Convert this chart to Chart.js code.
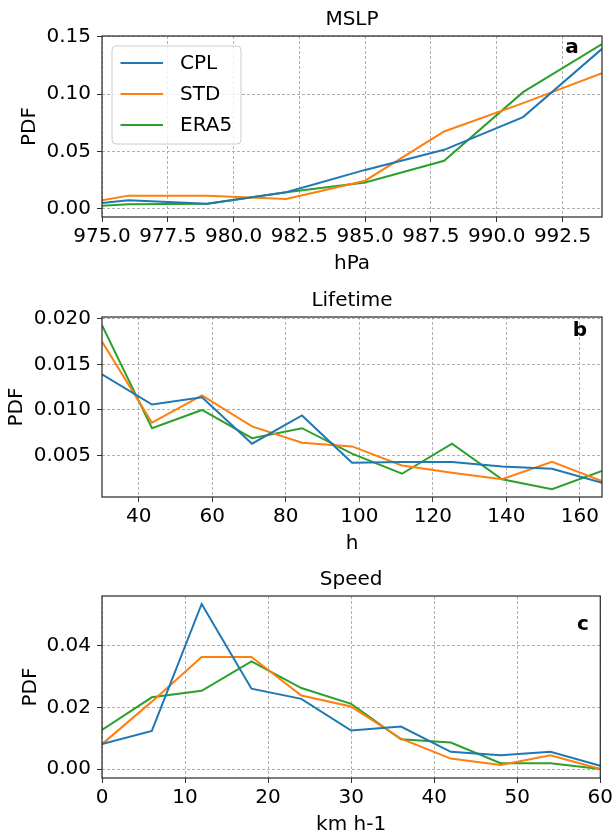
<!DOCTYPE html>
<html><head><meta charset="utf-8">
<script src="https://cdn.jsdelivr.net/npm/chart.js@4/dist/chart.umd.min.js"></script>
<style>
html,body{margin:0;padding:0;background:#fff}
body{width:616px;height:834px;overflow:hidden;position:relative}
.p{position:absolute;left:0;width:616px}
</style></head><body>
<div class="p" style="top:0;height:287px"><canvas id="ca"></canvas></div>
<div class="p" style="top:280px;height:287px"><canvas id="cb"></canvas></div>
<div class="p" style="top:560px;height:288px"><canvas id="cc"></canvas></div>
<script>
// ---- data ----
const seriesNames = ['CPL', 'STD', 'ERA5'];
const seriesColors = ['#1f77b4', '#ff7f0e', '#2ca02c'];

const mslpX = [975, 976, 979, 982, 985, 988, 991, 994];
const mslpCPL  = [0.0052, 0.0075, 0.0046, 0.0145, 0.0340, 0.0515, 0.0800, 0.1394];
const mslpSTD  = [0.0075, 0.0116, 0.0116, 0.0087, 0.0246, 0.0675, 0.0922, 0.1183];
const mslpERA5 = [0.0029, 0.0040, 0.0046, 0.0145, 0.0230, 0.0420, 0.1017, 0.1435];
const mslpXTicks = [975, 977.5, 980, 982.5, 985, 987.5, 990, 992.5];
const mslpYTicks = [0, 0.05, 0.10, 0.15];

const lifeX = [30, 43.6, 57.2, 70.8, 84.4, 98, 111.6, 125.2, 138.8, 152.4, 166];
const lifeCPL  = [0.0139, 0.0106, 0.0114, 0.0063, 0.0094, 0.0042, 0.0043, 0.0043, 0.0038, 0.00355, 0.0020];
const lifeSTD  = [0.0175, 0.0086, 0.0116, 0.0082, 0.0064, 0.0060, 0.0039, 0.0031, 0.0024, 0.0043, 0.0022];
const lifeERA5 = [0.0193, 0.0080, 0.0100, 0.0069, 0.0080, 0.0052, 0.0030, 0.0063, 0.0024, 0.0013, 0.0033];
const lifeXTicks = [40, 60, 80, 100, 120, 140, 160];
const lifeYTicks = [0.005, 0.010, 0.015, 0.020];

const speedX = [0, 6, 12, 18, 24, 30, 36, 42, 48, 54, 60];
const speedCPL  = [0.0081, 0.0124, 0.0536, 0.0261, 0.0228, 0.0125, 0.0138, 0.0056, 0.0045, 0.0056, 0.0011];
const speedSTD  = [0.0081, 0.0219, 0.0364, 0.0364, 0.0239, 0.0203, 0.0099, 0.0034, 0.0013, 0.0045, 0.0000];
const speedERA5 = [0.0127, 0.0233, 0.0254, 0.0350, 0.0263, 0.0212, 0.0097, 0.0086, 0.0019, 0.0019, 0.0000];
const speedXTicks = [0, 10, 20, 30, 40, 50, 60];
const speedYTicks = [0, 0.02, 0.04];

// ---- style ----
Chart.defaults.font.family = "'DejaVu Sans', sans-serif";
Chart.defaults.font.size = 20;
Chart.defaults.color = '#000';
Chart.defaults.animation = false;

const FONT = "'DejaVu Sans', sans-serif";

const deco = {
  id: 'panelDeco',
  afterDatasetsDraw(chart, args, opts) {
    const ctx = chart.ctx, a = chart.chartArea;
    ctx.save();
    ctx.setLineDash([]);
    ctx.strokeStyle = '#262626';
    ctx.lineWidth = 1.2;
    ctx.strokeRect(a.left, a.top, a.right - a.left, a.bottom - a.top);
    ctx.font = 'bold 20px ' + FONT;
    ctx.fillStyle = '#000';
    ctx.textAlign = 'center';
    ctx.textBaseline = 'middle';
    ctx.fillText(opts.letter, a.left + opts.letterPos[0], a.top + opts.letterPos[1]);
    if (opts.legend) {
      const bx = a.left + 10, by = a.top + 10, bw = 129, bh = 98, r = 4;
      ctx.beginPath();
      ctx.moveTo(bx + r, by);
      ctx.arcTo(bx + bw, by, bx + bw, by + bh, r);
      ctx.arcTo(bx + bw, by + bh, bx, by + bh, r);
      ctx.arcTo(bx, by + bh, bx, by, r);
      ctx.arcTo(bx, by, bx + bw, by, r);
      ctx.closePath();
      ctx.fillStyle = 'rgba(255,255,255,0.8)';
      ctx.fill();
      ctx.strokeStyle = '#cccccc';
      ctx.lineWidth = 1;
      ctx.stroke();
      ctx.font = '20px ' + FONT;
      ctx.textAlign = 'left';
      chart.data.datasets.forEach((ds, i) => {
        const yy = a.top + 27 + i * 31;
        ctx.strokeStyle = ds.borderColor;
        ctx.lineWidth = 2;
        ctx.beginPath();
        ctx.moveTo(a.left + 18.5, yy);
        ctx.lineTo(a.left + 61, yy);
        ctx.stroke();
        ctx.fillStyle = '#000';
        ctx.fillText(ds.label, a.left + 78, yy + 1);
      });
    }
    ctx.restore();
  }
};

function makePanel(id, cfg) {
  const datasets = cfg.series.map((s, i) => ({
    label: seriesNames[i],
    data: cfg.x.map((xv, j) => ({x: xv, y: s[j]})),
    borderColor: seriesColors[i],
    backgroundColor: seriesColors[i],
    borderWidth: 2,
    pointRadius: 0,
    tension: 0,
    fill: false
  }));
  return new Chart(document.getElementById(id), {
    type: 'line',
    data: {datasets},
    options: {
      responsive: true,
      maintainAspectRatio: false,
      animation: false,
      layout: {padding: {top: cfg.padTop, left: 0, right: 14, bottom: 0}},
      plugins: {
        legend: {display: false},
        tooltip: {enabled: false},
        title: {display: true, text: cfg.title, fullSize: false, color: '#000',
                font: {size: 20, weight: 'normal', family: FONT}, padding: {top: 0, bottom: 4}},
        panelDeco: {letter: cfg.letter, letterPos: cfg.letterPos, legend: cfg.legend}
      },
      scales: {
        x: {
          type: 'linear', min: cfg.xMin, max: cfg.xMax,
          afterBuildTicks: s => { s.ticks = cfg.xTicks.map(v => ({value: v})); },
          afterFit: s => { s.height = 70; },
          ticks: {callback: v => cfg.xFmt(v), autoSkip: false, maxRotation: 0, minRotation: 0, padding: 3, color: '#000', font: {size: 20}},
          grid: {color: '#b0b0b0', lineWidth: 1, tickLength: 5, tickColor: '#333', tickWidth: 1},
          border: {display: false, dash: [3, 2]},
          title: {display: true, text: cfg.xTitle, color: '#000', font: {size: 20}, padding: {top: 0, bottom: 11.5}}
        },
        y: {
          type: 'linear', min: cfg.yMin, max: cfg.yMax,
          afterBuildTicks: s => { s.ticks = cfg.yTicks.map(v => ({value: v})); },
          afterFit: s => { s.width = 102; },
          ticks: {callback: v => v.toFixed(cfg.yDec), autoSkip: false, padding: 6, color: '#000', font: {size: 20}},
          grid: {color: '#b0b0b0', lineWidth: 1, tickLength: 5, tickColor: '#333', tickWidth: 1},
          border: {display: false, dash: [3, 2]},
          title: {display: true, text: 'PDF', color: '#000', font: {size: 20}, padding: {top: cfg.yTitlePad, bottom: 0}}
        }
      }
    },
    plugins: [deco]
  });
}

makePanel('ca', {
  title: 'MSLP', x: mslpX, series: [mslpCPL, mslpSTD, mslpERA5],
  xMin: 975, xMax: 994, yMin: -0.007, yMax: 0.1506,
  xTicks: mslpXTicks, yTicks: mslpYTicks, xFmt: v => v.toFixed(1), yDec: 2,
  xTitle: 'hPa', padTop: 8, yTitlePad: 17.5, letter: 'a', letterPos: [470, 12], legend: true
});
makePanel('cb', {
  title: 'Lifetime', x: lifeX, series: [lifeCPL, lifeSTD, lifeERA5],
  xMin: 30, xMax: 166, yMin: 0.00045, yMax: 0.0202,
  xTicks: lifeXTicks, yTicks: lifeYTicks, xFmt: v => String(Math.round(v)), yDec: 3,
  xTitle: 'h', padTop: 9, yTitlePad: 4.5, letter: 'b', letterPos: [478, 14], legend: false
});
makePanel('cc', {
  title: 'Speed', x: speedX, series: [speedCPL, speedSTD, speedERA5],
  xMin: 0, xMax: 60, yMin: -0.0029, yMax: 0.0562,
  xTicks: speedXTicks, yTicks: speedYTicks, xFmt: v => String(Math.round(v)), yDec: 2,
  xTitle: 'km h-1', padTop: 8, yTitlePad: 18.5, letter: 'c', letterPos: [481, 29], legend: false
});
</script>
</body></html>
